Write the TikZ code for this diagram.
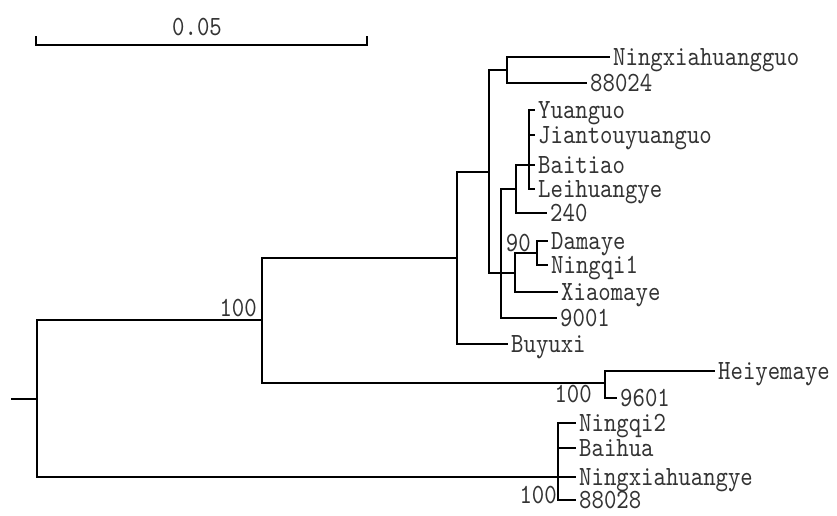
\documentclass[tikz,border=0pt]{standalone}
\usepackage{fontspec}
\newfontfamily\treefont[FakeStretch=0.85]{lmmono10-regular.otf}
\usepackage{tikz}
\usetikzlibrary{positioning}
\tikzset{
  br/.style  ={line width=1.9pt, line join=miter, black},
  lab/.style ={font=\fontsize{27.8}{28}\treefont, text=black!80,
               text height=17pt, text depth=0pt, inner xsep=3pt, inner ysep=1pt},
  leaf/.style={lab, anchor=west},
  bs/.style  ={lab, inner xsep=1pt},
}

\begin{document}
\begin{tikzpicture}[x=1pt,y=-1pt]
  \useasboundingbox (0,0) rectangle (837,515);

  \coordinate (s0) at (36,45);
  \coordinate (s1) at (367,45);
  \draw[br] ([yshift=9pt]s0) -- (s0) -- (s1) -- ([yshift=9pt]s1);
  \node[lab, anchor=base] (scale) at (197,35) {0.05};

  \coordinate (stub) at (11,399);
  \coordinate (R) at (37,399);
  \coordinate (U) at (262,320);
  \coordinate (Q) at (457,258);
  \coordinate (A) at (489,172);
  \coordinate (B) at (507,70);
  \coordinate (C) at (501,273);
  \coordinate (D) at (516,189);
  \coordinate (G) at (529,165);
  \coordinate (E) at (515,273);
  \coordinate (F) at (537,253);
  \coordinate (H) at (605,383);
  \coordinate (L) at (558,477);

  \node[leaf] (nxhg)    at (610,57)  {Ningxiahuangguo};
  \node[leaf] (n88024)  at (587,83)  {88024};
  \node[leaf] (yuanguo) at (535,110) {Yuanguo};
  \node[leaf] (jtyg)    at (535,135) {Jiantouyuanguo};
  \node[leaf] (baitiao) at (535,165) {Baitiao};
  \node[leaf] (leihy)   at (535,189) {Leihuangye};
  \node[leaf] (n240)    at (547,213) {240};
  \node[leaf] (damaye)  at (548,241) {Damaye};
  \node[leaf] (ningqi1) at (548,265) {Ningqi1};
  \node[leaf] (xiaomy)  at (558,292) {Xiaomaye};
  \node[leaf] (n9001)   at (557,318) {9001};
  \node[leaf] (buyuxi)  at (508,344) {Buyuxi};
  \node[leaf] (heiymy)  at (715,371) {Heiyemaye};
  \node[leaf] (n9601)   at (617,398) {9601};
  \node[leaf] (ningqi2) at (576,423) {Ningqi2};
  \node[leaf] (baihua)  at (576,448) {Baihua};
  \node[leaf] (nxhy)    at (576,477) {Ningxiahuangye};
  \node[leaf] (n88028)  at (576,500) {88028};

  \draw[br] (stub) -- (R);
  \draw[br] (R) |- (U);
  \draw[br] (R) |- (L);
  \draw[br] (U) |- (Q);
  \draw[br] (U) |- (H);
  \draw[br] (Q) |- (A);
  \draw[br] (Q) |- (buyuxi.west);
  \draw[br] (A) |- (B);
  \draw[br] (A) |- (E);
  \draw[br] (B) |- (nxhg.west);
  \draw[br] (B) |- (n88024.west);
  \draw[br] (C) |- (D);
  \draw[br] (C) |- (n9001.west);
  \draw[br] (D) |- (G);
  \draw[br] (D) |- (n240.west);
  \foreach \t in {yuanguo,jtyg,baitiao,leihy}
    \draw[br] (G) |- (\t.west);
  \draw[br] (E) |- (F);
  \draw[br] (E) |- (xiaomy.west);
  \draw[br] (F) |- (damaye.west);
  \draw[br] (F) |- (ningqi1.west);
  \draw[br] (H) |- (heiymy.west);
  \draw[br] (H) |- (n9601.west);
  \foreach \t in {ningqi2,baihua,nxhy,n88028}
    \draw[br] (L) |- (\t.west);

  \node[bs, anchor=south east] (bsU) at (258,318) {100};
  \node[bs, anchor=north east] (bsH) at (593,384) {100};
  \node[bs, anchor=north east] (bsL) at (558,485) {100};
  \node[bs, anchor=south east] (bsF) at (532,253) {90};
\end{tikzpicture}
\end{document}
